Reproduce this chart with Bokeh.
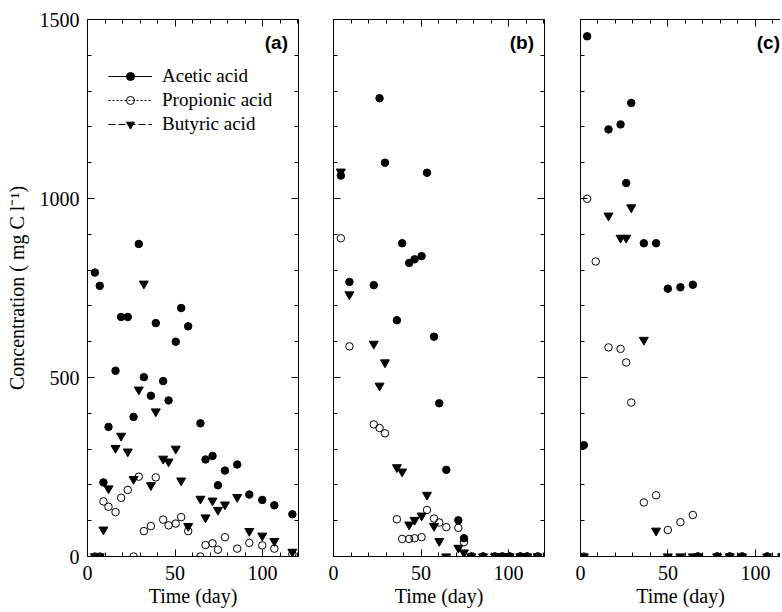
from bokeh.plotting import figure
from bokeh.layouts import row
from bokeh.models import Range1d, LinearAxis, Legend, LegendItem, Label, FixedTicker
from bokeh.embed import file_html
from bokeh.resources import INLINE

# ---------------- data ----------------
days_a = [4.2, 7, 9.1, 12, 16, 19.2, 23, 26.3, 29.3, 32.2, 36.2, 39, 43.2, 46.3, 50.4,
          53.5, 57.5, 64.5, 67.4, 71.4, 74.5, 78.5, 85.5, 92.4, 99.8, 106.7, 117]
acetic_a = [793, 756, 207, 362, 519, 669, 669, 390, 873, 501, 449, 652, 490, 436, 600,
            694, 643, 372, 271, 281, 199, 240, 257, 173, 158, 143, 118]
propionic_a = [0, 0, 154, 139, 124, 164, 186, 0, 223, 71, 85, 221, 103, 87, 92,
               110, 71, 0, 32, 37, 19, 54, 22, 38, 31, 22, 7]
butyric_a = [0, 0, 75, 190, 303, 337, 293, 216, 466, 762, 199, 405, 273, 265, 301,
             212, 85, 161, 109, 156, 130, 145, 166, 71, 58, 43, 13]

days_b = [4.2, 9.1, 23, 26.3, 29.4, 36.2, 39.2, 43.2, 46.3, 50.3, 53.4, 57.4, 60.4,
          64.4, 71.3, 74.5, 78.7, 85.4, 92.2, 96.4, 100.6, 106.7, 110.7, 116.6]
acetic_b = [1064, 767, 758, 1280, 1100, 660, 875, 820, 830, 839, 1072, 614, 428,
            242, 101, 51, 0, 0, 0, 0, 0, 0, 0, 0]
propionic_b = [889, 587, 369, 359, 344, 104, 49, 49, 51, 54, 130, 106, 95,
               82, 80, 40, 0, 0, 0, 0, 0, 0, 0, 0]
butyric_b = [1075, 732, 594, 477, 542, 249, 237, 89, 102, 114, 172, 85, 43,
             0, 24, 11, 0, 0, 0, 0, 0, 0, 0, 0]

days_c_ac = [1.9, 3.8, 16, 22.9, 26.1, 29, 36.2, 43.2, 49.9, 57.1, 64.2,
             67.1, 78.1, 85.3, 92.4, 106.7, 115.2]
acetic_c = [311, 1453, 1193, 1207, 1043, 1267, 875, 875, 748, 752, 759,
            0, 0, 0, 0, 0, 0]
days_c_pr = [1.9, 3.8, 8.7, 16, 22.9, 26.1, 29, 36.2, 43.2, 49.9, 57.1, 64.2,
             67.1, 78.1, 85.3, 92.4, 106.7, 115.2]
propionic_c = [0, 999, 824, 584, 580, 542, 430, 151, 171, 74, 96, 116,
               0, 0, 0, 0, 0, 0]
days_c_bu = [1.9, 16, 22.9, 26.1, 29, 36.2, 43.2, 49.9, 57.1, 64.2,
             67.1, 78.1, 85.3, 92.4, 106.7, 115.2]
butyric_c = [0, 952, 890, 890, 975, 605, 72, 0, 0, 0,
             0, 0, 0, 0, 0, 0]

y_major = [0, 500, 1000, 1500]
y_minor = list(range(0, 1501, 100))
x_major = [0, 50, 100]
x_minor = list(range(0, 121, 10))

SERIF = "Liberation Serif"
NAN = float("nan")


def style_axis(ax, labels=True):
    ax.axis_line_color = "black"
    ax.major_tick_line_color = "black"
    ax.minor_tick_line_color = "black"
    ax.major_tick_in = 7
    ax.major_tick_out = 0
    ax.minor_tick_in = 4
    ax.minor_tick_out = 0
    ax.major_label_text_font = SERIF
    ax.major_label_text_font_size = "20px"
    ax.major_label_text_color = "black"
    ax.axis_label_text_font = SERIF
    ax.axis_label_text_font_size = "20px"
    ax.axis_label_text_font_style = "normal"
    ax.axis_label_text_color = "black"
    if not labels:
        ax.major_label_text_font_size = "1px"
        ax.major_label_text_color = None
        ax.major_label_standoff = 0
        ax.major_label_overrides = {t: "" for t in ax.ticker.ticks}


def make_panel(series, x_end, frame_w, mb_left, mb_right, tag, tag_x,
               first=False, closed=True):
    p = figure(frame_width=frame_w, frame_height=537,
               x_range=Range1d(0, x_end), y_range=Range1d(0, 1500),
               output_backend="svg", toolbar_location=None,
               min_border_left=mb_left, min_border_right=mb_right,
               min_border_top=19, min_border_bottom=10,
               background_fill_color="white", border_fill_color="white")
    p.grid.visible = False
    p.outline_line_color = "black" if closed else None
    p.outline_line_width = 1

    xt = FixedTicker(ticks=x_major, minor_ticks=x_minor)
    yt = FixedTicker(ticks=y_major, minor_ticks=y_minor)
    p.xaxis.ticker = xt
    p.yaxis.ticker = yt
    style_axis(p.xaxis[0])
    style_axis(p.yaxis[0], labels=first)
    p.xaxis.axis_label = "Time (day)"
    p.xaxis.major_label_standoff = 9
    p.xaxis.axis_label_standoff = 2
    if first:
        p.yaxis.axis_label = "Concentration ( mg C l\u207b\u00b9)"
        p.yaxis.axis_label_text_font_size = "20px"
        p.yaxis.major_label_standoff = 8
        p.yaxis.axis_label_standoff = 9

    top = LinearAxis(ticker=xt)
    style_axis(top, labels=False)
    p.add_layout(top, "above")
    if closed:
        right = LinearAxis(ticker=yt)
        style_axis(right, labels=False)
        p.add_layout(right, "right")

    (da, ac), (dp, pr), (db, bu) = series
    r_bu = p.scatter(db, bu, marker="inverted_triangle", size=9,
                     fill_color="black", line_color="black")
    r_pr = p.scatter(dp, pr, marker="circle", size=7.5, fill_color=None,
                     line_color="black", line_width=1)
    r_ac = p.scatter(da, ac, marker="circle", size=7.5, fill_color="black",
                     line_color="black")

    p.add_layout(Label(x=tag_x, y=1436, text=tag, text_align="right",
                       text_baseline="middle", text_font="Liberation Sans",
                       text_font_style="bold", text_font_size="19px",
                       text_color="black"))

    if first:
        l_ac = p.line([NAN], [NAN], line_color="black", line_width=1)
        l_pr = p.line([NAN], [NAN], line_color="black", line_width=1, line_dash="2 2")
        l_bu = p.line([NAN], [NAN], line_color="black", line_width=1, line_dash="7 3")
        legend = Legend(items=[
            LegendItem(label="Acetic acid", renderers=[l_ac, r_ac]),
            LegendItem(label="Propionic acid", renderers=[l_pr, r_pr]),
            LegendItem(label="Butyric acid", renderers=[l_bu, r_bu]),
        ], location=(21, 421), padding=0, margin=0, spacing=2,
            glyph_width=44, glyph_height=20, label_height=20,
            label_standoff=10, border_line_color=None,
            background_fill_alpha=0, label_text_font=SERIF,
            label_text_font_size="19px",
            label_text_color="black")
        p.add_layout(legend, "center")
    return p


pa = make_panel([(days_a, acetic_a), (days_a, propionic_a), (days_a, butyric_a)],
                120.5, 211, 87, 18, "(a)", 114.5, first=True)
pb = make_panel([(days_b, acetic_b), (days_b, propionic_b), (days_b, butyric_b)],
                120.5, 211, 17, 18, "(b)", 114.5)
pc = make_panel([(days_c_ac, acetic_c), (days_c_pr, propionic_c), (days_c_bu, butyric_c)],
                114.3, 200, 18, 0, "(c)", 114.0, closed=False)

layout = row(pa, pb, pc, spacing=0)
open("out.html", "w").write(file_html(layout, INLINE))
